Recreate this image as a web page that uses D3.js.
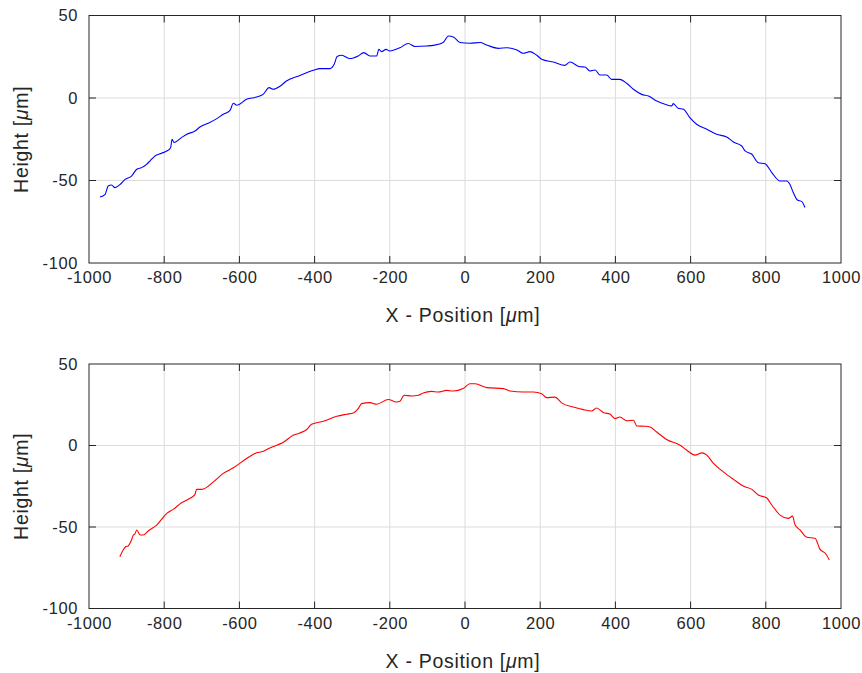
<!DOCTYPE html>
<html><head><meta charset="utf-8">
<script src="https://cdn.jsdelivr.net/npm/d3@7"></script>
<style>body{margin:0;background:#fff;} svg{display:block;}</style>
</head><body>
<svg id="chart" width="862" height="673"></svg>
<script>
const xTicks = [-1000,-800,-600,-400,-200,0,200,400,600,800,1000];
const yTicks = [-100,-50,0,50];

const topX = [-971,-957,-949,-940,-931,-918,-904,-887,-873,-860,-847,-838,-825,-807,-793,-783,-779,-774,-754,-740,-718,-705,-683,-660,-643,-625,-616,-607,-581,-554,-537,-521,-510,-492,-475,-439,-403,-386,-359,-348,-340,-328,-306,-284,-269,-253,-235,-229,-222,-210,-200,-173,-151,-133,-102,-84,-58,-44,-31,-13,13,40,58,89,111,138,155,173,191,204,235,266,279,306,319,332,346,359,377,390,412,430,448,470,488,510,532,550,554,567,581,598,616,643,669,696,714,736,745,763,780,798,816,838,856,864,873,884,896,904];
const topY = [-60,-58.4,-53.3,-52.7,-54.3,-52.5,-49.3,-47.3,-43.2,-42.2,-40.2,-38.2,-35.2,-33.5,-32.1,-30.1,-25,-27,-24,-22,-20,-17.6,-15.3,-12.5,-9.9,-7.5,-3.2,-4.4,-0.8,0.6,2.2,6.3,5.3,7.1,10.3,13.6,16.8,17.8,17.8,20.4,25.1,25.9,23.9,25.5,27.5,25.5,25.5,29.5,28.1,29.5,28.5,30.5,33,31.2,31.5,31.9,33.6,37.6,37,33.6,33.2,33.6,32.1,30.1,30.5,29.1,27.1,28.1,25.9,23.5,21.8,19.8,21.8,18.9,18.8,16.4,17,13.9,13.9,11.3,11.3,8.9,5.3,2.2,1.2,-1.8,-3.8,-4.8,-3.4,-6.2,-6.8,-11.9,-15.9,-19,-22,-23.6,-26.7,-29.1,-32.1,-34.1,-39.2,-39.8,-45.2,-50.3,-50.3,-52.3,-57.3,-61.8,-62.8,-66.4];

const botX = [-918,-909,-902,-896,-887,-882,-878,-873,-864,-856,-842,-820,-793,-776,-754,-736,-718,-714,-700,-669,-643,-616,-581,-559,-536,-519,-483,-457,-439,-421,-408,-377,-341,-315,-297,-284,-275,-253,-235,-204,-182,-173,-162,-142,-124,-111,-89,-71,-49,-31,-5,13,27,58,102,120,155,182,204,217,239,258,288,315,337,350,368,386,399,412,430,448,457,479,492,510,536,572,590,612,630,643,661,687,714,740,763,780,802,816,838,860,871,878,891,909,931,944,958,969];
const botY = [-68.2,-64.1,-62,-61.6,-58,-54.9,-54.3,-51.8,-54.9,-54.9,-52.3,-48.8,-41.6,-39.2,-35.1,-33,-30,-26.9,-26.9,-22.3,-17.1,-13.7,-8,-4.9,-3.5,-1.5,2,6.3,7.7,9.8,13,14.9,17.9,19.2,20,22.6,25.7,26.3,25.3,28.2,26.7,27.1,30.8,30.4,30.8,32.2,33.2,32.8,33.8,33.4,34.9,37.9,37.9,35.5,34.9,33.4,32.8,32.8,31.8,29.4,29.7,26,23.6,22,21.2,23,20.2,19.2,16.5,17.5,15.1,15.5,12,11.8,11.4,8.3,3.7,0.2,-2.9,-5.9,-4.5,-5.9,-11,-16.2,-20.8,-24.9,-26.9,-30.4,-32.1,-36.5,-42.7,-44.7,-43.3,-48.8,-51.8,-56.3,-56.9,-63.6,-66.1,-70.2];

const svg = d3.select("#chart");
const axisColor = "#262626";
const font = "'Liberation Sans', Arial, sans-serif";
const fmt = d => String(d);

function panel(top, bottom, xs, ys, color) {
  const left = 89, right = 841;
  const x = d3.scaleLinear().domain([-1000, 1000]).range([left, right]);
  const y = d3.scaleLinear().domain([-100, 50]).range([bottom, top]);
  const g = svg.append("g");
  g.selectAll(".gx").data(xTicks.slice(1, -1)).join("line")
    .attr("x1", d => x(d)).attr("x2", d => x(d)).attr("y1", top).attr("y2", bottom)
    .attr("stroke", "#dcdcdc").attr("stroke-width", 1);
  g.selectAll(".gy").data(yTicks.slice(1, -1)).join("line")
    .attr("x1", left).attr("x2", right).attr("y1", d => y(d)).attr("y2", d => y(d))
    .attr("stroke", "#dcdcdc").attr("stroke-width", 1);
  const pts = xs.map((v, i) => [v, ys[i]]);
  g.append("path").datum(pts)
    .attr("d", d3.line().x(d => x(d[0])).y(d => y(d[1])).curve(d3.curveMonotoneX))
    .attr("fill", "none").attr("stroke", color).attr("stroke-width", 1.1);
  const tl = 7;
  const ax = d3.axisBottom(x).tickValues(xTicks).tickSize(0).tickPadding(0).tickFormat(fmt);
  const bx = g.append("g").attr("transform", `translate(0,${bottom})`).call(ax);
  bx.select(".domain").remove();
  bx.selectAll("text").attr("dy", null).attr("y", 20).attr("fill", axisColor)
    .style("font-family", font).style("font-size", "16.5px").style("letter-spacing", "0.6px");
  const ay = d3.axisLeft(y).tickValues(yTicks).tickSize(0).tickPadding(0).tickFormat(fmt);
  const by = g.append("g").attr("transform", `translate(${left},0)`).call(ay);
  by.select(".domain").remove();
  by.selectAll("text").attr("x", -11).attr("dy", "0.33em").attr("fill", axisColor)
    .style("font-family", font).style("font-size", "16.5px").style("letter-spacing", "0.6px");
  g.selectAll(".tb").data(xTicks.slice(1, -1)).join("line")
    .attr("x1", d => x(d)).attr("x2", d => x(d)).attr("y1", bottom).attr("y2", bottom - tl)
    .attr("stroke", axisColor);
  g.selectAll(".tt").data(xTicks.slice(1, -1)).join("line")
    .attr("x1", d => x(d)).attr("x2", d => x(d)).attr("y1", top).attr("y2", top + tl)
    .attr("stroke", axisColor);
  g.selectAll(".tl").data(yTicks.slice(1, -1)).join("line")
    .attr("x1", left).attr("x2", left + tl).attr("y1", d => y(d)).attr("y2", d => y(d))
    .attr("stroke", axisColor);
  g.selectAll(".tr").data(yTicks.slice(1, -1)).join("line")
    .attr("x1", right).attr("x2", right - tl).attr("y1", d => y(d)).attr("y2", d => y(d))
    .attr("stroke", axisColor);
  g.append("rect").attr("x", left).attr("y", top).attr("width", right - left).attr("height", bottom - top)
    .attr("fill", "none").attr("stroke", axisColor).attr("stroke-width", 1);
  const xl = g.append("text").attr("x", (left + right) / 2 - 2).attr("y", bottom + 59)
    .attr("text-anchor", "middle").attr("fill", axisColor)
    .style("font-family", font).style("font-size", "19.5px").style("letter-spacing", "0.7px");
  xl.append("tspan").text("X - Position [");
  xl.append("tspan").style("font-style", "italic").text("μ");
  xl.append("tspan").text("m]");
  const cy = (top + bottom) / 2;
  const yl = g.append("text").attr("transform", `translate(28,${cy}) rotate(-90)`)
    .attr("text-anchor", "middle").attr("fill", axisColor)
    .style("font-family", font).style("font-size", "19.5px").style("letter-spacing", "0.7px");
  yl.append("tspan").text("Height [");
  yl.append("tspan").style("font-style", "italic").text("μ");
  yl.append("tspan").text("m]");
}

panel(15.5, 263, topX, topY, "#0000ff");
panel(364, 608.5, botX, botY, "#ff0000");
</script>
</body></html>
